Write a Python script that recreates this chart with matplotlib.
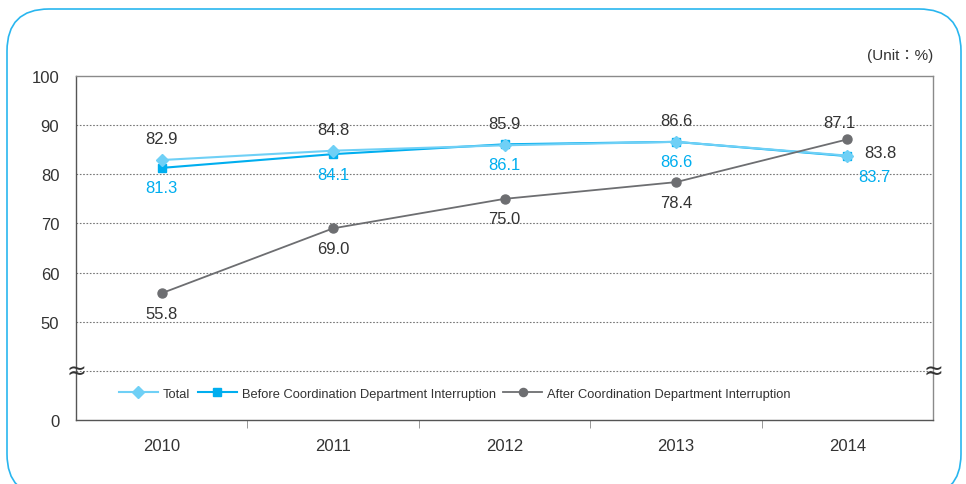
import numpy as np
import matplotlib.pyplot as plt
from matplotlib.patches import FancyBboxPatch

years = ["2010", "2011", "2012", "2013", "2014"]
total = [82.9, 84.8, 85.9, 86.6, 83.8]
before = [81.3, 84.1, 86.1, 86.6, 83.7]
after = [55.8, 69.0, 75.0, 78.4, 87.1]

y_ticks = [0, 50, 60, 70, 80, 90, 100]
grid_vals = [25, 50, 60, 70, 80, 90]

plt.rcParams["font.family"] = ["Liberation Sans", "Noto Sans CJK KR", "DejaVu Sans"]

C_TOTAL = "#6fd0f6"
C_BEFORE = "#00aeef"
C_AFTER = "#6d6e71"
C_TEXT = "#333333"


# broken axis: 0-50 squeezed into two grid steps, 50-100 linear
def fwd(v):
    v = np.asarray(v, dtype=float)
    return np.where(v >= 50, v - 30, v * 0.4)


def inv(t):
    t = np.asarray(t, dtype=float)
    return np.where(t >= 20, t + 30, t / 0.4)


fig = plt.figure(figsize=(9.66, 4.85), dpi=100)

# rounded frame around the chart (pixel coords, origin bottom left)
bg = fig.add_axes([0, 0, 1, 1])
bg.set_xlim(0, 966)
bg.set_ylim(0, 485)
bg.axis("off")
bg.add_patch(FancyBboxPatch((7, -12), 954, 487, boxstyle="round,pad=0,rounding_size=42",
                            fill=False, ec="#29b6ef", lw=1.2))

ax = fig.add_axes([76 / 966, 64 / 485, 857 / 966, 344 / 485])
ax.set_yscale("function", functions=(fwd, inv))
ax.set_ylim(0, 100)
x = np.arange(len(years))
ax.set_xlim(-0.5, len(years) - 0.5)

for g in grid_vals:
    ax.axhline(g, color="#777777", lw=0.8, ls=(0, (1.5, 1.5)), zorder=1)

ax.plot(x, total, color=C_TOTAL, lw=1.5, marker="D", ms=6.5, mec=C_TOTAL, mfc=C_TOTAL,
        label="Total", zorder=3)
ax.plot(x, before, color=C_BEFORE, lw=1.5, marker="s", ms=6, mec=C_BEFORE, mfc=C_BEFORE,
        label="Before Coordination Department Interruption", zorder=2)
ax.plot(x, after, color=C_AFTER, lw=1.3, marker="o", ms=6.5, mec=C_AFTER, mfc=C_AFTER,
        label="After Coordination Department Interruption", zorder=3)

for i, v in enumerate(total):
    if i == len(total) - 1:
        ax.annotate(f"{v:.1f}", (i, v), xytext=(12, 2), textcoords="offset points",
                    ha="left", va="center", fontsize=12, color=C_TEXT)
    else:
        ax.annotate(f"{v:.1f}", (i, v), xytext=(0, 10), textcoords="offset points",
                    ha="center", va="bottom", fontsize=12, color=C_TEXT)
for i, v in enumerate(before):
    dx = 8 if i == len(before) - 1 else 0
    ax.annotate(f"{v:.1f}", (i, v), xytext=(dx, -9), textcoords="offset points",
                ha="left" if dx else "center", va="top", fontsize=12, color=C_BEFORE)
for i, v in enumerate(after):
    if i == len(after) - 1:
        ax.annotate(f"{v:.1f}", (i, v), xytext=(-17, 7), textcoords="offset points",
                    ha="left", va="bottom", fontsize=12, color=C_TEXT)
    else:
        ax.annotate(f"{v:.1f}", (i, v), xytext=(0, -9), textcoords="offset points",
                    ha="center", va="top", fontsize=12, color=C_TEXT)

ax.set_yticks(y_ticks)
ax.set_yticklabels([str(t) for t in y_ticks])
ax.tick_params(axis="y", length=0, pad=12, labelsize=12, labelcolor=C_TEXT)
ax.set_xticks(x)
ax.set_xticklabels(years)
ax.tick_params(axis="x", which="major", length=0, pad=13, labelsize=12, labelcolor=C_TEXT)
ax.set_xticks(x[:-1] + 0.5, minor=True)
ax.tick_params(axis="x", which="minor", length=6, direction="out", color="#888888")

for s in ax.spines.values():
    s.set_color("#8a8a8a")
    s.set_linewidth(1.0)
ax.spines["left"].set_color("#555555")
ax.spines["bottom"].set_color("#555555")

# break marks
for xb in (0, 1):
    ax.text(xb, 25, "≈", transform=ax.get_yaxis_transform(), ha="center", va="center",
            fontsize=17, color=C_TEXT, zorder=5, clip_on=False, family="DejaVu Sans")

ax.text(1.0, 1.04, "(Unit：%)", transform=ax.transAxes, ha="right", va="bottom",
        fontsize=11, color=C_TEXT)

ax.legend(loc="center left", bbox_to_anchor=(0.05, 0.076), ncol=3, frameon=False,
          fontsize=9.3, handlelength=3.0, handletextpad=0.4, columnspacing=0.6,
          labelcolor=C_TEXT, markerscale=0.9, borderpad=0, borderaxespad=0)

fig.savefig("out.png", dpi=100)
